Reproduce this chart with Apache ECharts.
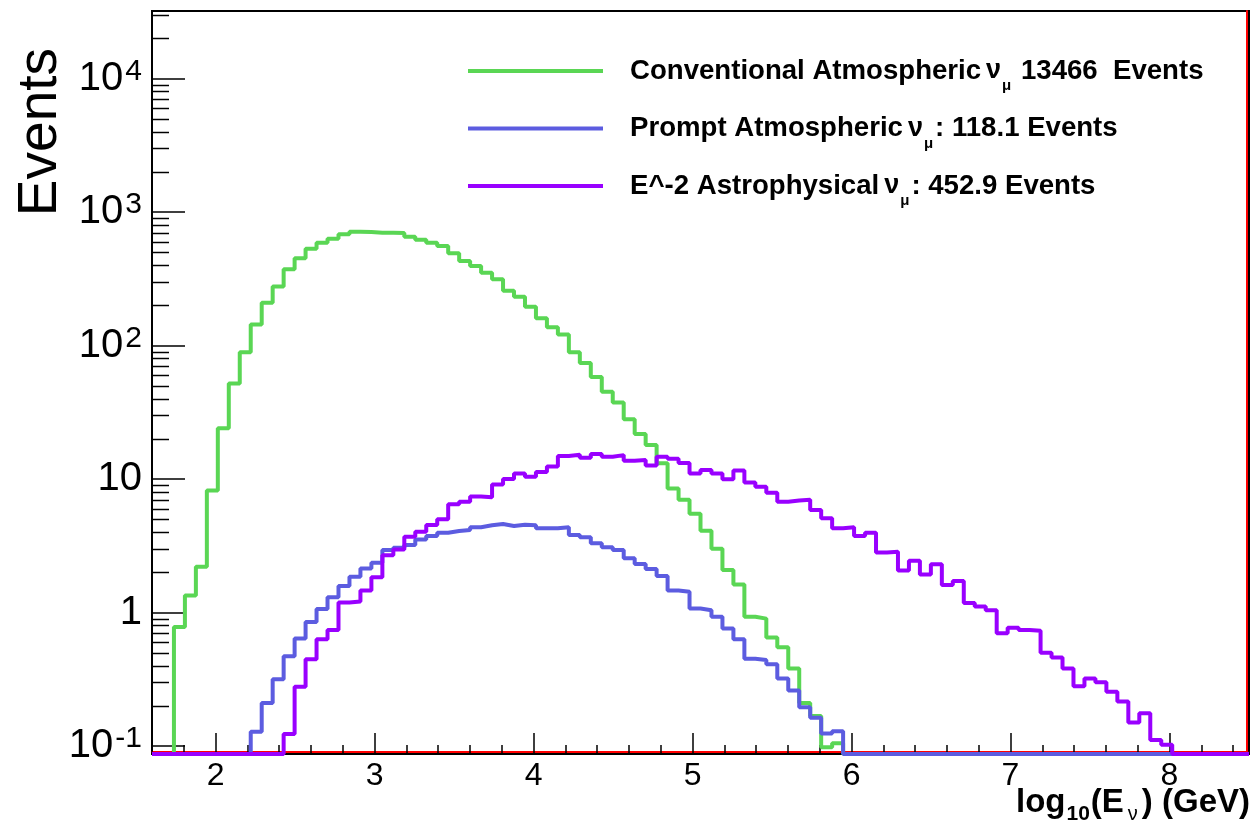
<!DOCTYPE html>
<html>
<head>
<meta charset="utf-8">
<title>Events vs log10(E)</title>
<script src="https://cdn.jsdelivr.net/npm/echarts@6.0.0/dist/echarts.min.js"></script>
<style>
    html, body { margin: 0; padding: 0; background: #fff; }
    #main { width: 1253px; height: 839px; }
</style>
</head>
<body>
<div id="main"></div>
<script>
// histogram binning: 100 bins in log10(E/GeV)
var xMin = 1.6, xMax = 8.5, nBins = 100;
// visible y range of the frame (log axis)
var yMin = 0.0871, yMax = 32060;

var seriesNames = [
    'Conventional Atmospheric \u03bd\u03bc 13466  Events',
    'Prompt Atmospheric \u03bd\u03bc: 118.1 Events',
    'E^-2 Astrophysical \u03bd\u03bc: 452.9 Events'
];
var legendLabels = [
    'Conventional Atmospheric{nu|\u03bd}{mu|\u03bc} 13466  Events',
    'Prompt Atmospheric{nu|\u03bd}{mu|\u03bc}: 118.1 Events',
    'E^-2 Astrophysical{nu|\u03bd}{mu|\u03bc}: 452.9 Events'
];

var conventional = [
    0, 0, 0.78, 1.34, 2.2, 8.2, 24, 52, 89, 144,
    209, 277, 372, 450, 531, 589, 631, 681, 712, 708,
    700, 700, 698, 653, 621, 589, 556, 491, 430, 394,
    351, 313, 257, 232, 195, 160, 137, 121, 89, 74,
    58, 45, 37.5, 28, 21.7, 18, 13.1, 8.5, 7.0, 5.5,
    4.1, 3.0, 2.08, 1.62, 0.93, 0.90, 0.65, 0.55, 0.38, 0.21,
    0.168, 0.098, 0.105, 0, 0, 0, 0, 0, 0, 0,
    0, 0, 0, 0, 0, 0, 0, 0, 0, 0,
    0, 0, 0, 0, 0, 0, 0, 0, 0, 0,
    0, 0, 0, 0, 0, 0, 0, 0, 0, 0
];
var prompt = [
    0, 0, 0, 0, 0, 0, 0, 0, 0, 0.128,
    0.21, 0.316, 0.47, 0.64, 0.85, 1.06, 1.30, 1.58, 1.85, 2.14,
    2.36, 2.94, 3.06, 3.2, 3.53, 3.74, 3.96, 4.08, 4.15, 4.35,
    4.5, 4.6, 4.45, 4.55, 4.5, 4.27, 4.27, 4.35, 3.81, 3.66,
    3.30, 3.08, 2.94, 2.55, 2.31, 2.12, 1.88, 1.46, 1.43, 1.07,
    1.04, 0.93, 0.76, 0.63, 0.45, 0.44, 0.41, 0.32, 0.26, 0.195,
    0.163, 0.124, 0.129, 0, 0, 0, 0, 0, 0, 0,
    0, 0, 0, 0, 0, 0, 0, 0, 0, 0,
    0, 0, 0, 0, 0, 0, 0, 0, 0, 0,
    0, 0, 0, 0, 0, 0, 0, 0, 0, 0
];
var astro = [
    0, 0, 0, 0, 0, 0, 0, 0, 0, 0,
    0, 0, 0.123, 0.278, 0.446, 0.63, 0.74, 1.19, 1.21, 1.46,
    1.84, 2.68, 2.97, 3.70, 4.03, 4.52, 5.0, 6.46, 6.76, 7.4,
    7.3, 9.1, 10.0, 11.0, 10.4, 11.3, 12.4, 14.9, 15.2, 14.4,
    15.4, 14.7, 15.1, 13.7, 13.9, 12.6, 14.7, 14.2, 13.2, 11.0,
    11.7, 11.0, 9.95, 11.6, 9.4, 8.75, 7.9, 6.76, 6.9, 7.0,
    5.86, 5.08, 4.27, 4.35, 3.74, 3.96, 2.82, 2.85, 2.06, 2.44,
    1.93, 2.30, 1.61, 1.72, 1.18, 1.11, 1.04, 0.70, 0.77, 0.74,
    0.73, 0.50, 0.46, 0.38, 0.28, 0.32, 0.30, 0.255, 0.215, 0.150,
    0.176, 0.111, 0.102, 0, 0, 0, 0, 0, 0, 0
];

var binEdges = [];
for (var i = 0; i <= nBins; i++) {
    binEdges.push(+(xMin + (xMax - xMin) * i / nBins).toFixed(4));
}

var FONT = '"Liberation Sans", Arial, Helvetica, sans-serif';

// step line through the bin edges; empty bins sit on the frame floor like ROOT draws them
function histSeries(name, values, color) {
    var pts = values.map(function (v, i) {
        return [binEdges[i], v > 0 ? v : yMin];
    });
    pts.push([binEdges[nBins], pts[pts.length - 1][1]]);
    return {
        name: name,
        type: 'line',
        step: 'end',
        data: pts,
        symbol: 'none',
        clip: false,
        lineStyle: { color: color, width: 4 },
        itemStyle: { color: color },
        emphasis: { disabled: true }
    };
}

var chart = echarts.init(document.getElementById('main'));

var option = {
    backgroundColor: '#fff',
    animation: false,
    grid: {
        left: 152, right: 4, top: 11, bottom: 85,
        show: true, borderColor: '#000', borderWidth: 2, backgroundColor: 'transparent'
    },
    legend: {
        orient: 'vertical',
        left: 468,
        top: 57,
        padding: 0,
        icon: 'rect',
        itemWidth: 135,
        itemHeight: 4,
        itemGap: 21,
        selectedMode: false,
        data: seriesNames,
        formatter: function (name) {
            return legendLabels[seriesNames.indexOf(name)];
        },
        textStyle: {
            fontFamily: FONT,
            fontSize: 27.6,
            fontWeight: 'bold',
            color: '#000',
            padding: [0, 0, 0, 22],
            rich: {
                nu: { fontFamily: FONT, fontSize: 27, color: '#000', padding: [0, 1, 0, 5] },
                mu: { fontFamily: FONT, fontSize: 15, color: '#000', padding: [30, 2, 0, 0] }
            }
        }
    },
    xAxis: {
        type: 'value',
        min: xMin,
        max: xMax,
        splitNumber: 7,
        splitLine: { show: false },
        axisLine: {
            onZero: false,
            lineStyle: { color: '#000', width: 2, shadowColor: '#ff0000', shadowOffsetY: -2, shadowBlur: 0 }
        },
        axisTick: { inside: true, length: 21, lineStyle: { color: '#000', width: 1.5 } },
        minorTick: { show: true, splitNumber: 5, length: 9, lineStyle: { color: '#000', width: 1.5 } },
        axisLabel: {
            showMinLabel: false,
            showMaxLabel: false,
            margin: 6,
            fontFamily: FONT,
            fontSize: 32,
            color: '#000'
        }
    },
    yAxis: [
        {
            type: 'log',
            logBase: 10,
            min: yMin,
            max: yMax,
            splitLine: { show: false },
            axisLine: { lineStyle: { color: '#000', width: 2 } },
            axisTick: { inside: true, length: 33, lineStyle: { color: '#000', width: 1.5 } },
            axisLabel: {
                showMinLabel: false,
                showMaxLabel: false,
                margin: 10,
                fontFamily: FONT,
                fontSize: 40,
                color: '#000',
                formatter: function (v) {
                    var e = Math.round(Math.log10(v));
                    if (e === 0) return '1';
                    if (e === 1) return '10';
                    return '10{sup|' + e + '}';
                },
                rich: {
                    sup: { fontFamily: FONT, fontSize: 30, color: '#000', padding: [0, 0, 14, 2] }
                }
            }
        },
        {
            type: 'value',
            position: 'right',
            offset: -2,
            min: 0,
            max: 1,
            axisLine: { show: true, lineStyle: { color: '#ff0000', width: 2 } },
            axisTick: { show: false },
            axisLabel: { show: false },
            splitLine: { show: false }
        }
    ],
    series: [
        histSeries(seriesNames[0], conventional, '#5ad654'),
        histSeries(seriesNames[1], prompt, '#5c5ce0'),
        histSeries(seriesNames[2], astro, '#9900ff')
    ]
};

chart.setOption(option);

// ROOT-style log minor ticks (2..9 x 10^k) on the left axis, placed through the axis scale
var minorValues = [];
for (var e = -2; e <= 4; e++) {
    for (var m = 2; m <= 9; m++) {
        var v = m * Math.pow(10, e);
        if (v > yMin && v < yMax) minorValues.push(v);
    }
}
var axisX = chart.convertToPixel({ xAxisIndex: 0 }, xMin);
var graphics = minorValues.map(function (v) {
    var y = Math.round(chart.convertToPixel({ yAxisIndex: 0 }, v)) + 0.5;
    return {
        type: 'line',
        shape: { x1: axisX, y1: y, x2: axisX + 17, y2: y },
        style: { stroke: '#000', lineWidth: 1.5 },
        silent: true
    };
});

graphics.push({
    type: 'text',
    x: 41,
    y: 48,
    rotation: Math.PI / 2,
    silent: true,
    style: {
        text: 'Events',
        align: 'right',
        verticalAlign: 'middle',
        font: '55px ' + FONT,
        fill: '#000'
    }
});

graphics.push({
    type: 'text',
    right: 3,
    top: 786,
    silent: true,
    style: {
        text: 'log{s1|10}(E{s2|\u03bd}) (GeV)',
        font: 'bold 33px ' + FONT,
        fill: '#000',
        rich: {
            s1: { font: 'bold 21px ' + FONT, fill: '#000', padding: [24, 1, 0, 1] },
            s2: { font: '20px ' + FONT, fill: '#000', padding: [24, 4, 0, 4] }
        }
    }
});

chart.setOption({ graphic: graphics });
</script>
</body>
</html>
